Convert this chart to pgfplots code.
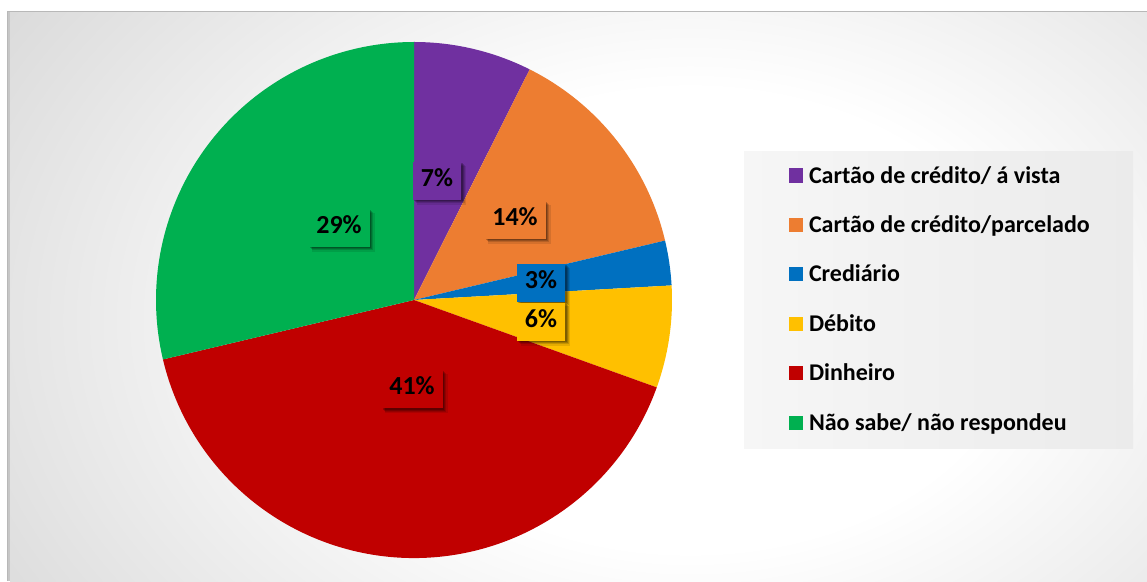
\documentclass[border=0pt]{standalone}
\usepackage{pgfplots}
\pgfplotsset{compat=1.18}
\usepackage{pgfplotstable}
\usepackage{fontspec}
\setmainfont{Carlito}
\usetikzlibrary{shadows}

\definecolor{cPurple}{HTML}{7030A0}
\definecolor{cOrange}{HTML}{ED7D31}
\definecolor{cBlue}{HTML}{0070C0}
\definecolor{cYellow}{HTML}{FFC000}
\definecolor{cRed}{HTML}{C00000}
\definecolor{cGreen}{HTML}{00B050}
\definecolor{bgOuter}{HTML}{C6C6C6}
\definecolor{legL}{HTML}{F6F6F6}
\definecolor{legR}{HTML}{EBEBEB}
\pgfdeclareradialshading{bgshade}{\pgfpoint{0bp}{0bp}}{color(0bp)=(white); color(12bp)=(white); color(40bp)=(bgOuter); color(50bp)=(bgOuter)}

% name, value (percent), colour, label x, label y (axis units = pt), label text
\pgfplotstableread[col sep=comma]{
name,value,color,lx,ly,lab
Cartão de crédito/ á vista,7.4,cPurple,437,400,7
Cartão de crédito/parcelado,13.9,cOrange,515,361,14
Crediário,2.8,cBlue,541,298,3
Débito,6.4,cYellow,541,259,6
Dinheiro,40.8,cRed,412,192,41
Não sabe/ não respondeu,28.7,cGreen,339,353,29
}\piedata

\tikzset{lbl/.style={font=\bfseries\fontsize{26pt}{30pt}\selectfont, inner xsep=8pt, inner ysep=8pt,
  text height=17pt, text depth=5pt,
  drop shadow={shadow xshift=4.5pt, shadow yshift=-4.5pt, opacity=0.10, fill=black, shadow scale=1.03},
  drop shadow={shadow xshift=3.5pt, shadow yshift=-3.5pt, opacity=0.14, fill=black},
  drop shadow={shadow xshift=2.5pt, shadow yshift=-2.5pt, opacity=0.18, fill=black},
  drop shadow={shadow xshift=1.5pt, shadow yshift=-1.5pt, opacity=0.22, fill=black}}}

\begin{document}
\begin{tikzpicture}
\useasboundingbox (0,0) rectangle (1147pt,581pt);
\fill[white] (0,0) rectangle (1147pt,581pt);
\begin{scope}
\clip (7pt,0pt) rectangle (1147pt,569pt);
\fill[bgOuter] (7pt,0pt) rectangle (1147pt,569pt);
\shade[shading=bgshade] (10pt,-219pt) rectangle (1370pt,741pt);
\end{scope}
\draw[color=black!28, line width=1pt] (7pt,0pt) -- (7pt,569pt) -- (1147pt,569pt);
\shade[left color=legL, right color=legR] (744pt,133pt) rectangle (1133pt,429pt);
\begin{axis}[
  at={(0pt,0pt)}, anchor=south west,
  x=1pt, y=1pt, xmin=0, xmax=1147, ymin=0, ymax=581,
  hide axis,
  legend cell align=left,
  legend image code/.code={\fill[#1, draw=none] (0pt,-5.5pt) rectangle (14pt,8.5pt);},
  legend style={at={(axis cs:789,415)}, anchor=north west, draw=none, fill=none,
    inner sep=0pt, outer sep=0pt, column sep=6pt, row sep=27.4pt,
    font=\bfseries\fontsize{24pt}{28pt}\selectfont,
    nodes={inner xsep=0pt, inner ysep=0pt, text height=17pt, text depth=5pt}},
]
\def\cum{0}
\pgfplotsforeachungrouped \i in {0,...,5}{%
  \pgfplotstablegetelem{\i}{value}\of\piedata \let\val\pgfplotsretval
  \pgfplotstablegetelem{\i}{color}\of\piedata \let\col\pgfplotsretval
  \pgfplotstablegetelem{\i}{name}\of\piedata \let\nm\pgfplotsretval
  \pgfmathsetmacro\aS{90-3.6*\cum}%
  \pgfmathsetmacro\cum{\cum+\val}%
  \pgfmathsetmacro\aE{90-3.6*\cum}%
  \edef\tmp{\noexpand\fill[\col] (axis cs:414,281) -- ([shift={(\aS:258pt)}]axis cs:414,281) arc[start angle=\aS, end angle=\aE, radius=258pt] -- cycle;}%
  \tmp
  \edef\tmp{\noexpand\addlegendimage{fill=\col}\noexpand\addlegendentry{\nm}}%
  \tmp
}
\pgfplotsforeachungrouped \i in {0,...,5}{%
  \pgfplotstablegetelem{\i}{color}\of\piedata \let\col\pgfplotsretval
  \pgfplotstablegetelem{\i}{lx}\of\piedata \let\lx\pgfplotsretval
  \pgfplotstablegetelem{\i}{ly}\of\piedata \let\ly\pgfplotsretval
  \pgfplotstablegetelem{\i}{lab}\of\piedata \let\lab\pgfplotsretval
  \edef\tmp{\noexpand\node[lbl, fill=\col] at (axis cs:\lx,\ly) {\lab\noexpand\%};}%
  \tmp
}
\end{axis}
\end{tikzpicture}
\end{document}
